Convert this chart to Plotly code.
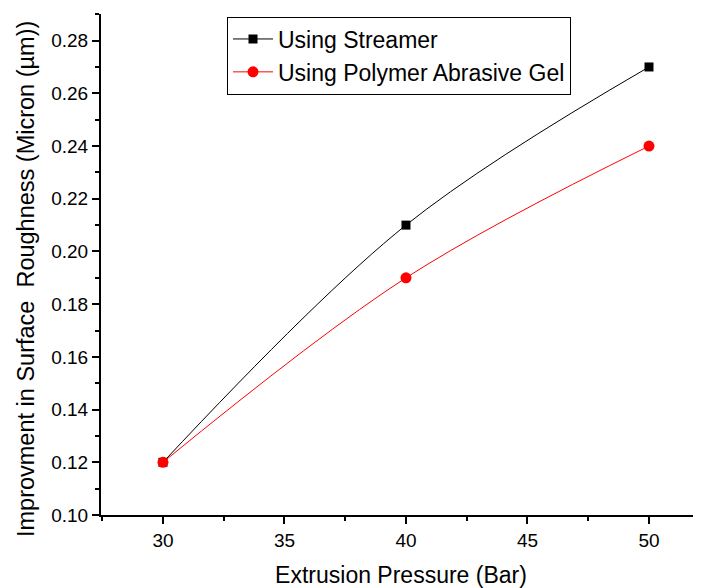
import plotly.graph_objects as go

pressure = [30, 40, 50]
streamer = [0.12, 0.21, 0.27]
polymer_gel = [0.12, 0.19, 0.24]

x_ticks = [30, 35, 40, 45, 50]
y_ticks = [0.10, 0.12, 0.14, 0.16, 0.18, 0.20, 0.22, 0.24, 0.26, 0.28]

font_family = "Liberation Sans, Arial, sans-serif"

fig = go.Figure()
fig.add_trace(go.Scatter(
    x=pressure, y=streamer, name="Using Streamer",
    mode="lines+markers", line=dict(color="black", width=1, shape="spline"),
    marker=dict(symbol="square", size=9, color="black"),
))
fig.add_trace(go.Scatter(
    x=pressure, y=polymer_gel, name="Using Polymer Abrasive Gel",
    mode="lines+markers", line=dict(color="red", width=1, shape="spline"),
    marker=dict(symbol="circle", size=11, color="red"),
))

axis_common = dict(
    showline=True, linecolor="black", linewidth=2, mirror=False,
    ticks="outside", ticklen=7, tickwidth=2, tickcolor="black",
    showgrid=False, zeroline=False, automargin=False,
    tickfont=dict(family=font_family, size=19, color="black"),
)

fig.update_xaxes(
    range=[27.45, 52.14], tickvals=x_ticks, ticktext=[str(v) for v in x_ticks],
    minor=dict(ticks="outside", ticklen=4, tickwidth=2, tickcolor="black", dtick=2.5, tick0=27.5),
    title=dict(text="Extrusion Pressure (Bar)", font=dict(family=font_family, size=23, color="black"), standoff=18),
    **axis_common,
)
fig.update_yaxes(
    range=[0.10, 0.2901], tickvals=y_ticks, ticktext=[f"{v:.2f}" for v in y_ticks],
    minor=dict(ticks="outside", ticklen=4, tickwidth=2, tickcolor="black", dtick=0.01, tick0=0.10),
    **axis_common,
)

fig.add_annotation(
    text="Improvment in Surface  Roughness (Micron (µm))",
    xref="paper", yref="paper", x=-0.125, y=0.471,
    xanchor="center", yanchor="middle", textangle=-90, showarrow=False,
    font=dict(family=font_family, size=23.5, color="black"),
)

fig.update_layout(
    width=693, height=580,
    margin=dict(l=93, r=0, t=6, b=73),
    plot_bgcolor="white", paper_bgcolor="white",
    font=dict(family=font_family, color="black"),
    legend=dict(
        x=0.21, y=0.995, xanchor="left", yanchor="top",
        bordercolor="black", borderwidth=1, bgcolor="white",
        font=dict(family=font_family, size=23, color="black"),
        itemwidth=40, tracegroupgap=0,
    ),
    showlegend=True,
)

fig.write_html("out.html")
